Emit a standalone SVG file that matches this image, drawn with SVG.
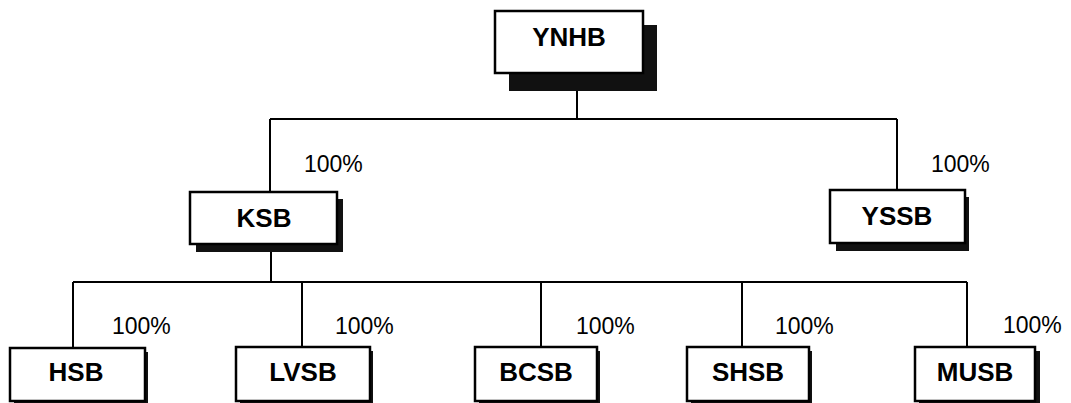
<svg xmlns="http://www.w3.org/2000/svg" width="1071" height="403" viewBox="0 0 1071 403">
<style>
.box{fill:#fff;stroke:#000;stroke-width:2.5}
.sh{fill:#111}
.lbl{font-family:"Liberation Sans",Arial,sans-serif;font-weight:bold;font-size:26px;fill:#000;text-anchor:middle}
.pct{font-family:"Liberation Sans",Arial,sans-serif;font-size:23px;fill:#000}
.ln{fill:none;stroke:#000;stroke-width:2}
</style>
<rect width="1071" height="403" fill="#fff"/>
<g id="connectors">
<path class="ln" d="M577 91V119M270 119H897M270 119V192M897 119V190"/>
<path class="ln" d="M271 252V282M73 282H967M73 282V348M302 282V347M541 282V347M742 282V347M967 282V347"/>
</g>
<g id="YNHB">
<rect class="sh" x="509" y="25" width="148" height="66"/>
<rect class="box" x="495" y="11" width="148" height="62"/>
<text class="lbl" x="569" y="46">YNHB</text>
</g>
<g id="KSB">
<rect class="sh" x="196" y="199" width="147" height="53"/>
<rect class="box" x="190" y="192" width="147" height="52"/>
<text class="lbl" x="264" y="227">KSB</text>
<text class="pct" x="304" y="172">100%</text>
</g>
<g id="YSSB">
<rect class="sh" x="836" y="197" width="133" height="54"/>
<rect class="box" x="830" y="190" width="135" height="53"/>
<text class="lbl" x="897" y="225">YSSB</text>
<text class="pct" x="931" y="172">100%</text>
</g>
<g id="HSB">
<rect class="sh" x="14" y="352" width="134" height="60"/>
<rect class="box" x="10" y="348" width="135" height="53"/>
<text class="lbl" x="76" y="381">HSB</text>
<text class="pct" x="112" y="334">100%</text>
</g>
<g id="LVSB">
<rect class="sh" x="240" y="351" width="133" height="60"/>
<rect class="box" x="236" y="347" width="134" height="54"/>
<text class="lbl" x="303" y="381">LVSB</text>
<text class="pct" x="335" y="334">100%</text>
</g>
<g id="BCSB">
<rect class="sh" x="479" y="351" width="121" height="60"/>
<rect class="box" x="475" y="347" width="122" height="54"/>
<text class="lbl" x="536" y="381">BCSB</text>
<text class="pct" x="576" y="334">100%</text>
</g>
<g id="SHSB">
<rect class="sh" x="691" y="351" width="121" height="60"/>
<rect class="box" x="687" y="347" width="122" height="54"/>
<text class="lbl" x="748" y="381">SHSB</text>
<text class="pct" x="775" y="334">100%</text>
</g>
<g id="MUSB">
<rect class="sh" x="919" y="351" width="121" height="60"/>
<rect class="box" x="915" y="347" width="120" height="54"/>
<text class="lbl" x="975" y="381">MUSB</text>
<text class="pct" x="1003" y="333">100%</text>
</g>
</svg>
